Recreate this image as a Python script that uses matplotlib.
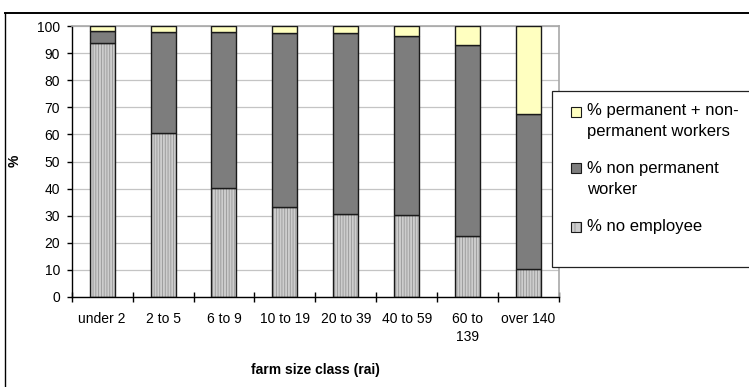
import matplotlib
matplotlib.use("Agg")
import matplotlib.pyplot as plt
from matplotlib.patches import Rectangle
from matplotlib.lines import Line2D
import numpy as np

plt.rcParams['font.family'] = ['Liberation Sans', 'DejaVu Sans']
plt.rcParams['hatch.linewidth'] = 0.6

# share of farms by employment type in each farm size class (%)
size_classes = ['under 2', '2 to 5', '6 to 9', '10 to 19', '20 to 39',
                '40 to 59', '60 to\n139', 'over 140']
no_employee = [93.7, 60.5, 40.1, 33.2, 30.6, 30.3, 22.4, 10.3]
non_permanent = [4.5, 37.4, 57.8, 64.2, 66.8, 66.1, 70.6, 57.2]
perm_plus_nonperm = [1.8, 2.1, 2.1, 2.6, 2.6, 3.6, 7.0, 32.5]

series_labels = ['% no employee', '% non permanent\nworker',
                 '% permanent + non-\npermanent workers']

W, H = 749, 387
fig = plt.figure(figsize=(W / 100, H / 100), dpi=100)
ax = fig.add_axes([71.7 / W, 1 - 297 / H, (559 - 71.7) / W, (297 - 26) / H])

x = np.arange(len(size_classes))
bw = 0.41
light_face, light_hatch = '#cdcdcd', '#969696'
dark_face = '#7d7d7d'
yellow_face = '#ffffc0'

# bottom segment: light grey with fine vertical stripes
ax.bar(x, no_employee, bw, color=light_face, edgecolor=light_hatch,
       hatch='||||||', linewidth=0, zorder=2)
ax.bar(x, no_employee, bw, fill=False, edgecolor='#1a1a1a', linewidth=1.0, zorder=3)
bottom2 = np.array(no_employee)
ax.bar(x, non_permanent, bw, bottom=bottom2, color=dark_face,
       edgecolor='#1a1a1a', linewidth=1.0, zorder=3)
bottom3 = bottom2 + np.array(non_permanent)
ax.bar(x, perm_plus_nonperm, bw, bottom=bottom3, color=yellow_face,
       edgecolor='#1a1a1a', linewidth=1.0, zorder=3)

ax.set_xlim(-0.5, len(size_classes) - 0.5)
ax.set_ylim(0, 100)
ax.set_yticks(np.arange(0, 101, 10))
ax.yaxis.grid(True, color='#c4c4c4', linewidth=0.9)
ax.set_axisbelow(True)

ax.set_xticks(x)
ax.set_xticklabels(size_classes, fontsize=10, linespacing=1.35)
ax.set_xticks(np.arange(-0.5, len(size_classes), 1.0), minor=True)
ax.tick_params(axis='x', which='major', length=0, pad=11)
ax.tick_params(axis='x', which='minor', direction='inout', length=7.2, width=1.0)
ax.tick_params(axis='y', direction='out', length=3.6, width=1.0, pad=4.8,
               labelsize=10)

for side in ('top', 'right'):
    ax.spines[side].set_color('#a8a8a8')
    ax.spines[side].set_linewidth(1.2)
for side in ('left', 'bottom'):
    ax.spines[side].set_color('black')
    ax.spines[side].set_linewidth(1.0)

ax.set_ylabel('%', fontsize=10, fontweight='bold')
ax.yaxis.set_label_coords(-0.1026, 0.502)
ax.set_xlabel('farm size class (rai)', fontsize=10, fontweight='bold')
ax.xaxis.set_label_coords(0.5, -0.2435)

# chart frame (top and left edges)
fig.add_artist(Line2D([5 / W, 1], [1 - 13 / H, 1 - 13 / H], color='black',
                      linewidth=1.4, transform=fig.transFigure))
fig.add_artist(Line2D([5 / W, 5 / W], [0, 1 - 13 / H], color='black',
                      linewidth=1.0, transform=fig.transFigure))

# legend box
fig.add_artist(Rectangle((551.5 / W, 1 - 267 / H), (760 - 551.5) / W, (267 - 91) / H,
                         facecolor='white', edgecolor='#222222', linewidth=0.9,
                         transform=fig.transFigure, zorder=5))
legend_styles = [
    dict(facecolor=yellow_face),
    dict(facecolor=dark_face),
    dict(facecolor=light_face, hatch='|||'),
]
box_bottoms = [116.7, 173.3, 231.7]
text_tops = [103.0, 161.0, 219.0]
order = [2, 1, 0]
for k, idx in enumerate(order):
    sty = legend_styles[k]
    hatch = sty.pop('hatch', None)
    yb = 1 - box_bottoms[k] / H
    if hatch:
        fig.add_artist(Rectangle((571 / W, yb), 10 / W, 10 / H,
                                 edgecolor=light_hatch, hatch=hatch, linewidth=0,
                                 transform=fig.transFigure, zorder=6, **sty))
        fig.add_artist(Rectangle((571 / W, yb), 10 / W, 10 / H,
                                 fill=False, edgecolor='#1a1a1a', linewidth=0.8,
                                 transform=fig.transFigure, zorder=7))
    else:
        fig.add_artist(Rectangle((571 / W, yb), 10 / W, 10 / H,
                                 edgecolor='#1a1a1a', linewidth=0.8,
                                 transform=fig.transFigure, zorder=6, **sty))
    fig.text(587 / W, 1 - text_tops[k] / H, series_labels[idx], fontsize=12,
             va='top', ha='left', linespacing=1.5, zorder=7)

fig.savefig('out.png', dpi=100)
